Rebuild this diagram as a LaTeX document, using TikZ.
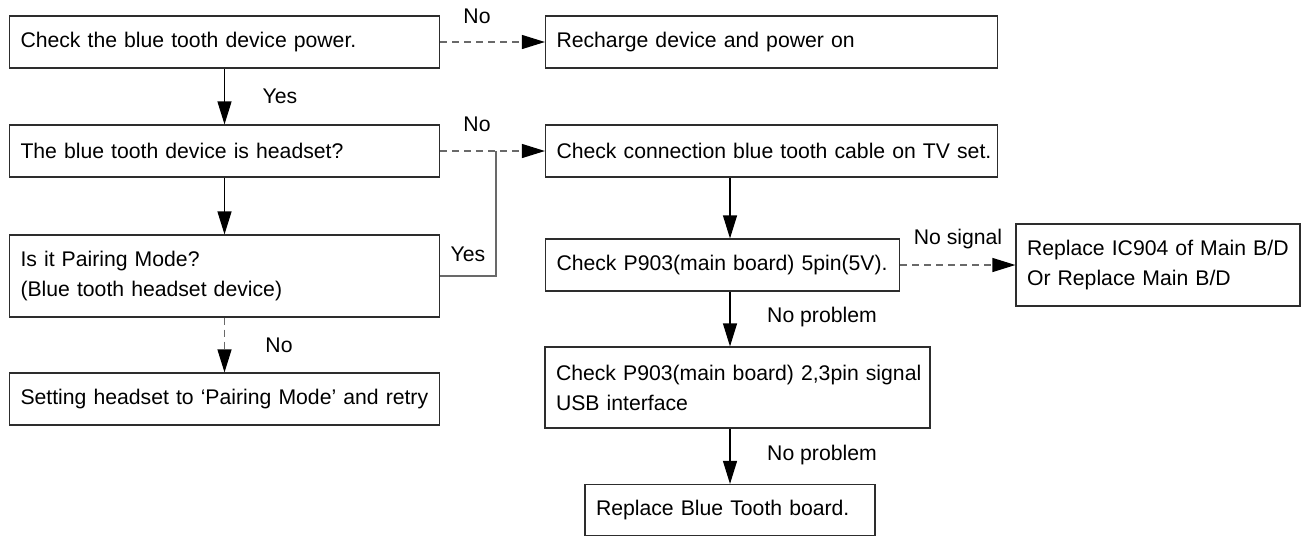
\documentclass[tikz,border=0pt]{standalone}
\usepackage{fontspec}
\setmainfont{Liberation Sans}
\usepackage{tikz}
\usetikzlibrary{arrows.meta}
\definecolor{boxline}{RGB}{45,45,45}
\definecolor{dashline}{RGB}{105,105,105}

\begin{document}
\begin{tikzpicture}[x=0.5pt,y=-0.5pt,
    font=\fontsize{10.6pt}{15pt}\selectfont,
    box/.style={draw=boxline,line width=0.6pt,align=left,inner xsep=5.5pt,inner ysep=0pt},
    go/.style={draw=black,line width=0.6pt,-{Triangle[length=11.5pt,width=7pt,color=black]}},
    nogo/.style={go,draw=dashline,dash pattern=on 3.5pt off 2.5pt},
    yesline/.style={draw=dashline,line width=0.6pt},
    tag/.style={inner sep=0pt}]
        \useasboundingbox (0,0) rectangle (1309,536);
        % left column
        \node[box,text width=204pt,minimum height=26pt] (power) at (224.5,42) {\mbox{Check the blue tooth device power.}};
        \node[box,text width=204pt,minimum height=26pt] (headset) at (224.5,151) {\mbox{The blue tooth device is headset?}};
        \node[box,text width=204pt,minimum height=41pt] (pairing) at (224.5,276) {\mbox{Is it Pairing Mode?}\\\mbox{(Blue tooth headset device)}};
        \node[box,text width=204pt,minimum height=26pt] (setting) at (224.5,399) {\mbox{Setting headset to `Pairing Mode' and retry}};
        % right column
        \node[box,text width=215pt,minimum height=26pt] (recharge) at (771.5,42) {\mbox{Recharge device and power on}};
        \node[box,text width=215pt,minimum height=26pt] (cable) at (771.5,151) {\mbox{Check connection blue tooth cable on TV set.}};
        \node[box,text width=166pt,minimum height=26pt] (fivepin) at (722.5,265) {\mbox{Check P903(main board) 5pin(5V).}};
        \node[box,text width=131pt,minimum height=41pt] (replic) at (1158,265) {\mbox{Replace IC904 of Main B/D}\\\mbox{Or Replace Main B/D}};
        \node[box,text width=181.5pt,minimum height=40.5pt] (usb) at (737.5,387.5) {\mbox{Check P903(main board) 2,3pin signal}\\\mbox{USB interface}};
        \node[box,text width=134pt,minimum height=25.5pt] (replbt) at (730,510) {\mbox{Replace Blue Tooth board.}};
        \coordinate (join) at (496,151);
        % connectors
        \draw[go] (power) -- (headset);
        \draw[go] (headset) -- (pairing);
        \draw[nogo] (pairing) -- (setting);
        \draw[nogo] (power) -- (recharge);
        \draw[nogo] (headset) -- (cable);
        \draw[yesline] (pairing.east) -| (join);
        \draw[go] (cable.south -| replbt.north) -- (fivepin.north -| replbt.north);
        \draw[nogo] (fivepin.east) -- (fivepin.east -| replic.west);
        \draw[go] (fivepin.south -| replbt.north) -- (usb.north -| replbt.north);
        \draw[go] (usb.south -| replbt.north) -- (replbt.north);
        % labels
        \node[tag] (lno1) at (477,16) {No};
        \node[tag] (lyes1) at (280,96) {Yes};
        \node[tag] (lno2) at (477,124) {No};
        \node[tag] (lyes2) at (468,254) {Yes};
        \node[tag] (lno3) at (279,345) {No};
        \node[tag] (lnp1) at (822,317) {No problem};
        \node[tag] (lnsig) at (958,239) {No signal};
        \node[tag] (lnp2) at (822,455) {No problem};
      \end{tikzpicture}
\end{document}
